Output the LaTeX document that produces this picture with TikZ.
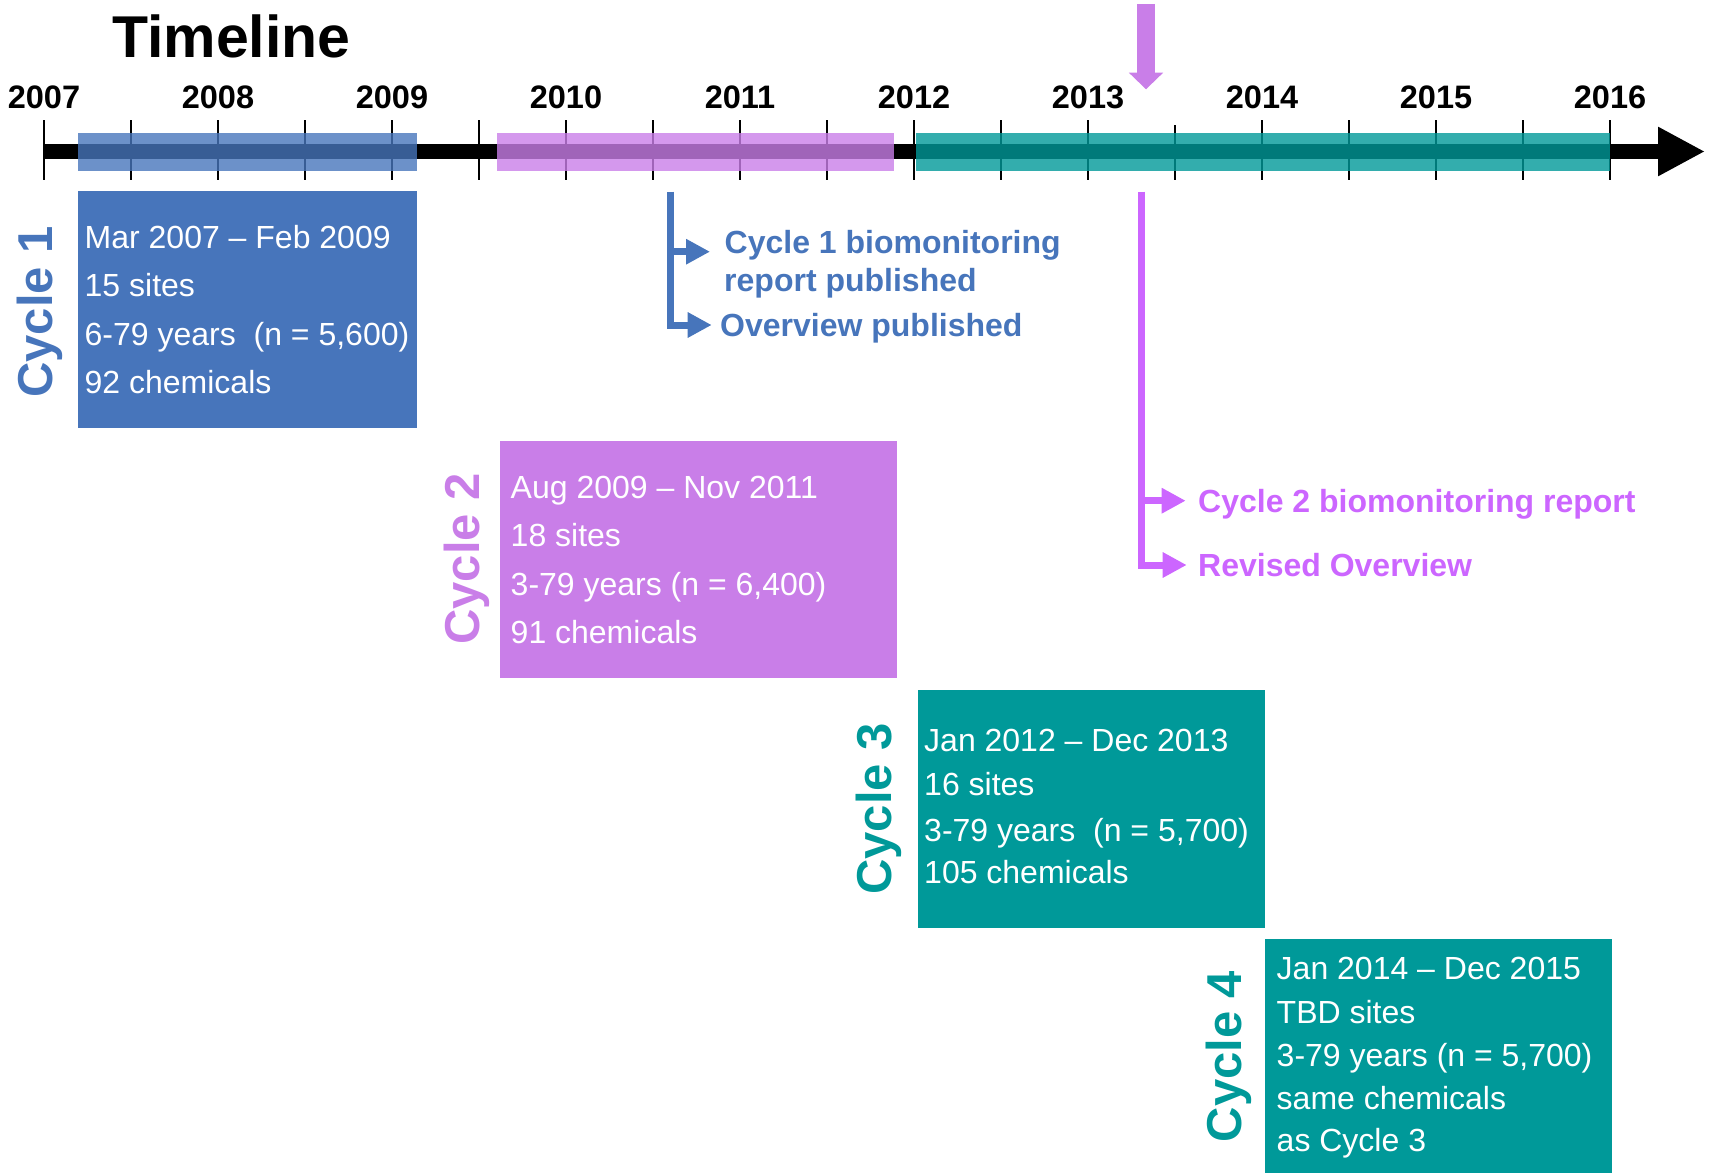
\documentclass[tikz,border=0pt]{standalone}
\usepackage{fontspec}
\setmainfont{Liberation Sans}
\usetikzlibrary{arrows.meta}
\definecolor{cblue}{HTML}{4775BB}
\definecolor{cpurple}{HTML}{C97EE8}
\definecolor{cteal}{HTML}{009999}
\definecolor{cbright}{HTML}{CC66FF}
\begin{document}
\begin{tikzpicture}[x=1pt,y=-1pt,
  boxtxt/.style={anchor=base west, inner sep=0, text=white, font=\fontsize{32}{32}\selectfont},
  cyclbl/.style={anchor=base, rotate=90, inner sep=0, font=\bfseries\fontsize{49}{49}\selectfont},
  yearlbl/.style={anchor=base, inner sep=0, font=\bfseries\fontsize{32.5}{32.5}\selectfont},
  anntxt/.style={anchor=base west, inner sep=0, font=\bfseries\fontsize{32}{32}\selectfont},
  cbox/.style={rectangle, inner sep=0, anchor=north west, draw=none},
  barfill/.style={fill opacity=0.8},
  bracket/.style={line width=7pt, -{Triangle[length=24pt,width=24pt]}},
  tickline/.style={line width=2pt, black},
]
\useasboundingbox (0,0) rectangle (1712,1172);

% ticks
\foreach \k in {0,...,12,14,15,16,17,18}
  \draw[tickline] ({44+87*\k},120) -- ({44+87*\k},180);
\draw[tickline] ({44+87*13},125) -- ({44+87*13},180);

% axis
\coordinate (axstart) at (44,151.5);
\coordinate (axend) at (1705,151.5);
\draw[line width=15pt, -{Triangle[length=47pt,width=46pt]}] (axstart) -- (axend);

% bars
\fill[cblue, barfill] (77.5,133) rectangle (417,171);
\fill[cpurple, barfill] (497,133) rectangle (894,171);
\fill[cteal, barfill] (916,133) rectangle (1610,171);

% year labels
\foreach \yr [count=\i from 0] in {2007,2008,2009,2010,2011,2012,2013,2014,2015,2016}
  \node[yearlbl] (y\yr) at ({44+174*\i},108.5) {\yr};

% title
\node[anchor=base west, inner sep=0, font=\bfseries\fontsize{59}{59}\selectfont] (title) at (112,57) {Timeline};

% top arrow
\coordinate (toparrS) at (1146,4);
\coordinate (toparrE) at (1146,89.3);
\draw[cpurple, line width=17.7pt, -{Triangle[length=16.6pt,width=33.3pt]}] (toparrS) -- (toparrE);

% boxes
\node[cbox, fill=cblue, minimum width=339.7pt, minimum height=237pt] (box1) at (77.3,191) {};
\node[cbox, fill=cpurple, minimum width=396.7pt, minimum height=237pt] (box2) at (500,441) {};
\node[cbox, fill=cteal, minimum width=347.7pt, minimum height=237.7pt] (box3) at (917.3,690) {};
\node[cbox, fill=cteal, minimum width=347.4pt, minimum height=234pt] (box4) at (1264.3,938.3) {};

% box texts
\node[boxtxt] (b1l1) at (84.5,248.3) {Mar 2007 – Feb 2009};
\node[boxtxt] (b1l2) at (84.5,296.7) {15 sites};
\node[boxtxt] (b1l3) at (84.5,345.7) {6-79 years~~(n = 5,600)};
\node[boxtxt] (b1l4) at (84.5,393.3) {92 chemicals};

\node[boxtxt] (b2l1) at (510.5,498.3) {Aug 2009 – Nov 2011};
\node[boxtxt] (b2l2) at (510.5,546.7) {18 sites};
\node[boxtxt] (b2l3) at (510.5,595.7) {3-79 years (n = 6,400)};
\node[boxtxt] (b2l4) at (510.5,643.3) {91 chemicals};

\node[boxtxt] (b3l1) at (924,751.7) {Jan 2012 – Dec 2013};
\node[boxtxt] (b3l2) at (924,795) {16 sites};
\node[boxtxt] (b3l3) at (924,841.7) {3-79 years~~(n = 5,700)};
\node[boxtxt] (b3l4) at (924,883.3) {105 chemicals};

\node[boxtxt] (b4l1) at (1276.5,979.3) {Jan 2014 – Dec 2015};
\node[boxtxt] (b4l2) at (1276.5,1023.3) {TBD sites};
\node[boxtxt] (b4l3) at (1276.5,1066.7) {3-79 years (n = 5,700)};
\node[boxtxt] (b4l4) at (1276.5,1109.3) {same chemicals};
\node[boxtxt] (b4l5) at (1276.5,1151.7) {as Cycle 3};

% cycle labels
\node[cyclbl, text=cblue] (c1lbl) at (52.5,312) {Cycle 1};
\node[cyclbl, text=cpurple] (c2lbl) at (479,559) {Cycle 2};
\node[cyclbl, text=cteal] (c3lbl) at (891.5,809) {Cycle 3};
\node[cyclbl, text=cteal] (c4lbl) at (1241.5,1056.5) {Cycle 4};

% blue bracket
\coordinate (br1top) at (670.7,191.7);
\coordinate (br1mid) at (670.7,251.7);
\coordinate (br1tipa) at (710,251.7);
\coordinate (br1tipb) at (711.7,325);
\draw[bracket, cblue] (br1top) |- (br1tipb);
\draw[bracket, cblue] (br1mid) -- (br1tipa);

% purple bracket
\coordinate (br2top) at (1141.7,191.7);
\coordinate (br2mid) at (1141.7,500.7);
\coordinate (br2tipa) at (1185.7,500.7);
\coordinate (br2tipb) at (1186.7,565);
\draw[bracket, cbright] (br2top) |- (br2tipb);
\draw[bracket, cbright] (br2mid) -- (br2tipa);

% annotation texts
\node[anntxt, text=cblue] (ann1a) at (724.5,253.3) {Cycle 1 biomonitoring};
\node[anntxt, text=cblue] (ann1b) at (724,291.7) {report published};
\node[anntxt, text=cblue] (ann1c) at (720,336.7) {Overview published};
\node[anntxt, text=cbright] (ann2a) at (1198,512.7) {Cycle 2 biomonitoring report};
\node[anntxt, text=cbright] (ann2b) at (1198,576.7) {Revised Overview};
\end{tikzpicture}
\end{document}
